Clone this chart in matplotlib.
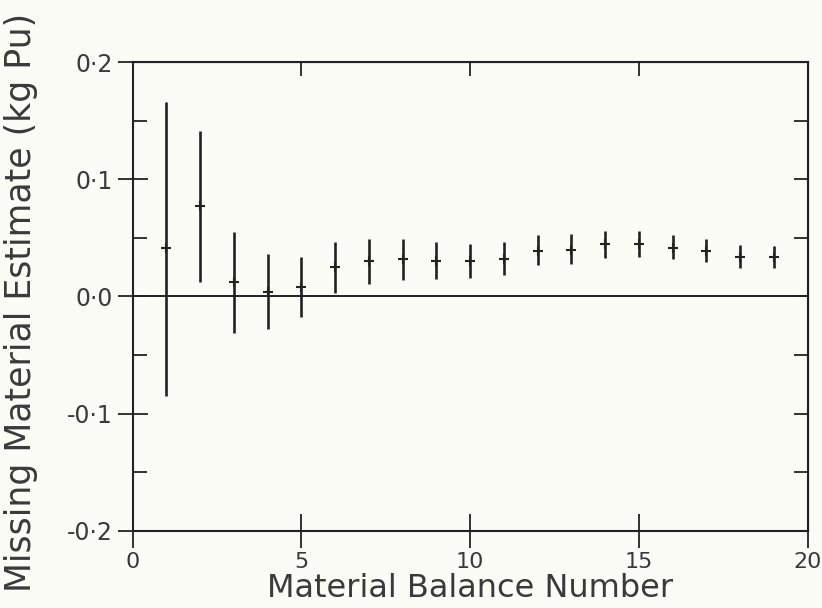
import numpy as np
import matplotlib
matplotlib.use("Agg")
import matplotlib.pyplot as plt
from matplotlib.ticker import FuncFormatter

# material balance estimates
balance_no = [1, 2, 3, 4, 5, 6, 7, 8, 9, 10, 11, 12, 13, 14, 15, 16, 17, 18, 19]
estimate = [0.041, 0.077, 0.012, 0.004, 0.008, 0.025, 0.030, 0.032, 0.030, 0.030,
            0.032, 0.039, 0.040, 0.045, 0.045, 0.041, 0.039, 0.034, 0.034]
upper = [0.166, 0.141, 0.055, 0.036, 0.034, 0.046, 0.049, 0.049, 0.046, 0.045,
         0.046, 0.052, 0.053, 0.056, 0.056, 0.052, 0.049, 0.044, 0.043]
lower = [-0.085, 0.012, -0.031, -0.028, -0.018, 0.003, 0.011, 0.014, 0.015, 0.016,
         0.018, 0.027, 0.028, 0.033, 0.034, 0.032, 0.029, 0.024, 0.024]

x_ticks = [0, 5, 10, 15, 20]
y_ticks = [-0.2, -0.1, 0.0, 0.1, 0.2]

bg = '#fcfcf7'
ink = '#222222'
txt = '#3a3a3a'

plt.rcParams['font.family'] = ['DejaVu Sans']

fig = plt.figure(figsize=(8.22, 6.08), dpi=100, facecolor=bg)
ax = fig.add_axes([0.1612, 0.127, 0.9826 - 0.1612, 0.898 - 0.127])
ax.set_facecolor(bg)

est = np.array(estimate)
yerr = [est - np.array(lower), np.array(upper) - est]
ax.errorbar(balance_no, est, yerr=yerr, fmt='+', color=ink, ecolor=ink,
            elinewidth=1.9, capsize=0, markersize=7, mew=1.5)
ax.axhline(0.0, color=ink, lw=1.4, zorder=1)

ax.set_xlim(0, 20)
ax.set_ylim(-0.2, 0.2)

for s in ax.spines.values():
    s.set_linewidth(1.5)
    s.set_color(ink)

ax.set_xticks(x_ticks)
ax.set_yticks(y_ticks)
ax.set_yticks([-0.15, -0.05, 0.05, 0.15], minor=True)
ax.yaxis.set_major_formatter(FuncFormatter(lambda v, p: f"{v:.1f}".replace('.', '\u00b7')))

ax.tick_params(axis='x', which='major', direction='inout', length=24, width=1.3,
               color=ink, labelsize=16, labelcolor=txt, pad=3)
ax.tick_params(axis='y', which='major', direction='inout', length=22, width=1.3,
               color=ink, labelsize=17, labelcolor=txt, pad=3)
ax.tick_params(axis='y', which='minor', direction='in', length=10, width=1.3, color=ink)

# top and right spines carry inward ticks only
top = ax.secondary_xaxis('top')
top.set_xticks([5, 10, 15])
top.tick_params(direction='in', length=10, width=1.3, color=ink, labeltop=False)
right = ax.secondary_yaxis('right')
right.set_yticks([-0.15, -0.1, -0.05, 0.0, 0.05, 0.1, 0.15])
right.tick_params(direction='in', length=10, width=1.3, color=ink, labelright=False)

ax.set_xlabel('Material Balance Number', fontsize=23, color=txt, va='baseline')
ax.xaxis.set_label_coords(0.5, -0.141)
ax.set_ylabel('Missing Material Estimate (kg Pu)', fontsize=25, color=txt)
ax.yaxis.set_label_coords(-0.1396, 0.488)

fig.savefig('out.png', dpi=100, facecolor=bg)
